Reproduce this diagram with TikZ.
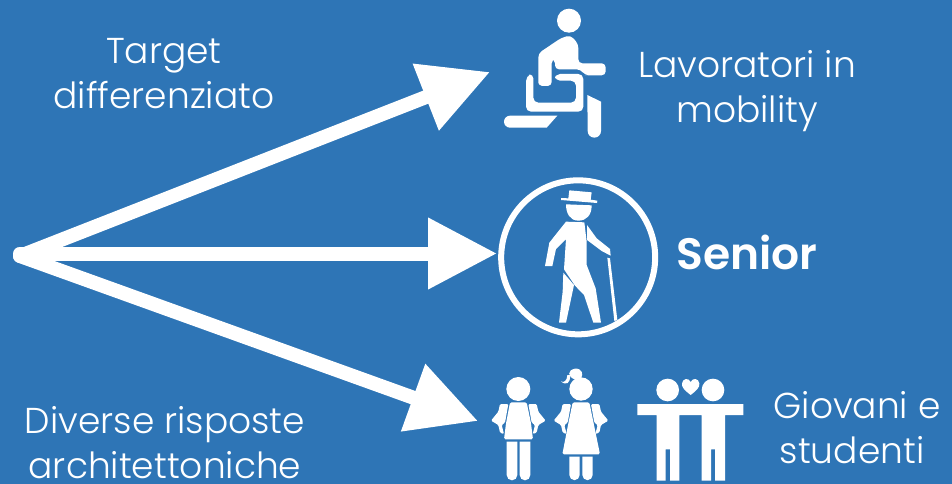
\documentclass[tikz,border=0pt]{standalone}
\usepackage{fontspec}
\setmainfont{Poppins}[UprightFont=* Light,BoldFont=* SemiBold]
\usetikzlibrary{arrows.meta}
\definecolor{bg}{RGB}{46,117,182}
\tikzset{
  lbl/.style={text=white,align=center,inner sep=0pt,font=\fontsize{36}{45}\selectfont},
  arr/.style={draw=white,line width=14pt,line cap=round,-{Triangle[length=69pt,width=68pt,fill=white]}},
  ico/.style={fill=white,draw=none},
  thirds/.style={x=0.33333pt,y=-0.33333pt}
}
\begin{document}
\begin{tikzpicture}[x=1pt,y=-1pt]
\useasboundingbox (0,0) rectangle (952,484);
\fill[bg] (0,0) rectangle (952,484);
\coordinate (o) at (20,256);
\coordinate (om) at (20,253.5);
\coordinate (t1) at (490,72);
\coordinate (t2) at (497,253.5);
\coordinate (t3) at (478,421);
\draw[arr] (o) -- (t1);
\draw[arr] (om) -- (t2);
\draw[arr] (o) -- (t3);
% wheelchair
\begin{scope}[shift={(490,0)},thirds]
\fill[ico] (237,62) circle[radius=36];
\fill[ico,rounded corners=4pt] (145,240) -- (145,160) -- (215,113) -- (242,106) -- (265,132) -- (265,190) -- (325,190) -- (347,190) -- (347,226) -- (296,226) -- (285,226) -- (272,208) -- (195,208) -- (195,178) -- (185,178) -- (185,258) -- (145,258) -- cycle;
\fill[ico,rounded corners=5pt] (130,220) -- (108,228) -- (108,335) -- (280,335) -- (280,222) -- (195,222) -- (195,242) -- (258,242) -- (258,308) -- (130,308) -- cycle;
\fill[ico] (60,347) -- (202,347) -- (170,383) -- (60,383) arc[start angle=90,end angle=270,radius=18] -- cycle;
\fill[ico] (292,285) -- (333,305) -- (333,393) arc[start angle=0,end angle=180,radius=20] -- cycle;
\end{scope}
% senior
\begin{scope}[shift={(490,175)},thirds]
\draw[white,line width=6pt] (264.5,247) circle[radius=231];
\fill[ico] (213,69) -- (235,70) -- (238,46) -- (305,52) -- (302,74) -- (322,77) -- (321,84) -- (213,75) -- cycle;
\fill[ico] (228,88) -- (305,91) .. controls (305,120) and (290,137) .. (265,137) .. controls (240,137) and (228,115) .. (228,88) -- cycle;
\fill[ico] (228,140) -- (283,142) -- (290,200) -- (290,270) -- (317,340) -- (333,443) -- (310,443) -- (282,360) -- (255,332) -- (222,283) -- (228,192) -- (198,222) -- (187,273) -- (165,273) -- (178,203) -- cycle;
\fill[ico] (291,150) -- (320,190) -- (360,222) -- (362,242) -- (335,228) -- (291,195) -- cycle;
\fill[ico] (220,293) -- (252,330) -- (228,443) -- (207,443) -- (218,350) -- cycle;
\fill[ico] (352,248) -- (360,250) -- (382,435) -- (373,438) -- cycle;
\end{scope}
% students
\begin{scope}[shift={(480,360)},thirds]
\def\bagL{[rounded corners=1.2pt] (60,132) -- (85,132) -- (75,188) -- (65,195) -- (72,222) -- (60,218) -- (55,195) -- (33,182) -- (55,155) -- cycle}
\fill[ico] (115,87) circle[radius=36];
\fill[ico,rounded corners=1.5pt] (90,127) -- (140,127) -- (153,190) -- (159,238) -- (72,238) -- (78,190) -- cycle;
\fill[ico] \bagL;
\begin{scope}[xshift=230*0.33333pt,x=-0.33333pt]\fill[ico] \bagL;\end{scope}
\fill[ico] (80,245) -- (112,245) -- (112,345) arc[start angle=0,end angle=180,radius=16] -- cycle;
\fill[ico] (119,245) -- (151,245) -- (151,345) arc[start angle=0,end angle=180,radius=16] -- cycle;
% girl
\fill[ico] (303,87) circle[radius=35];
\fill[ico] (284,58) .. controls (262,50) and (262,30) .. (285,26) .. controls (305,24) and (312,42) .. (303,55) -- cycle;
\fill[ico] (270,45) .. controls (272,70) and (258,78) .. (243,64) .. controls (250,70) and (262,62) .. (262,45) -- cycle;
\fill[ico,rounded corners=1.5pt] (278,127) -- (328,127) -- (341,190) -- (360,283) -- (247,283) -- (265,190) -- cycle;
\begin{scope}[xshift=188*0.33333pt]\fill[ico] \bagL;\end{scope}
\begin{scope}[xshift=418*0.33333pt,x=-0.33333pt]\fill[ico] \bagL;\end{scope}
\fill[ico] (268,290) -- (299,290) -- (299,345) arc[start angle=0,end angle=180,radius=15.5] -- cycle;
\fill[ico] (307,290) -- (338,290) -- (338,345) arc[start angle=0,end angle=180,radius=15.5] -- cycle;
% couple
\fill[ico] (563,90) circle[radius=34];
\fill[ico] (699,90) circle[radius=34];
\fill[ico] (472,132) -- (790,132) -- (790,165) -- (735,165) -- (735,362) -- (705,362) -- (705,268) -- (693,268) -- (693,362) -- (665,362) -- (665,165) -- (598,165) -- (598,362) -- (570,362) -- (570,268) -- (557,268) -- (557,362) -- (530,362) -- (530,165) -- (472,165) -- cycle;
\fill[ico] (632,105) .. controls (615,92) and (604,82) .. (606,70) .. controls (608,55) and (626,52) .. (632,66) .. controls (638,52) and (656,55) .. (658,70) .. controls (660,82) and (649,92) .. (632,105) -- cycle;
\end{scope}
% labels
\node[lbl] (a) at (164,74) {Target\\differenziato};
\node[lbl] (b) at (747,91.5) {Lavoratori in\\mobility};
\node[lbl,font=\fontsize{44}{45}\selectfont\bfseries] (c) at (747,252.5) {Senior};
\node[lbl] (d) at (165,443) {Diverse risposte\\architettoniche};
\node[lbl] (e) at (857,428) {Giovani e\\studenti\hspace*{10pt}};
\end{tikzpicture}
\end{document}
